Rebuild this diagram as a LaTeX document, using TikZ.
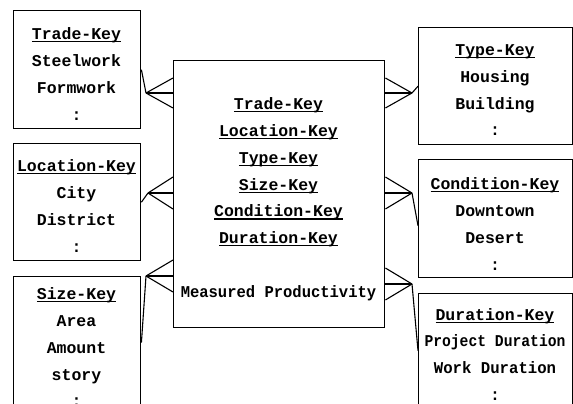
\documentclass[tikz,border=0pt]{standalone}
\usepackage{fontspec}
\newfontfamily\courf{Liberation Mono}
\usetikzlibrary{calc}
\newcommand\ukey[1]{\setbox0\hbox{#1}\rlap{\rule[-2.8pt]{\wd0}{1.3pt}}\box0}
\tikzset{
  box/.style={draw, line width=1.4pt, rectangle, inner sep=0pt, anchor=north west},
  txt/.style={font=\courf\bfseries\fontsize{16.5}{26.8}\selectfont, align=center, inner sep=0pt, anchor=north},
  crow/.style={line width=1.1pt},
}
\begin{document}
\begin{tikzpicture}[x=1pt,y=1pt]
\useasboundingbox (0,0) rectangle (573,-404);
\fill[white] (0,0) rectangle (573,-404);
\clip (0,0) rectangle (573,-404);
% boxes
\node[box, minimum width=127, minimum height=118] (trade) at (13,-10) {};
\node[box, minimum width=127, minimum height=117] (loc) at (13,-143) {};
\node[box, minimum width=127, minimum height=132] (size) at (13,-276) {};
\node[box, minimum width=154, minimum height=117] (type) at (418,-27) {};
\node[box, minimum width=154, minimum height=118] (cond) at (418,-159) {};
\node[box, minimum width=154, minimum height=114] (dur) at (418,-293) {};
\node[box, minimum width=211, minimum height=267] (main) at (173,-60) {};
% texts
\node[txt] (tradeT) at (76.5,-27.5) {\ukey{Trade-Key}\\Steelwork\\Formwork\\:};
\node[txt] (locT) at (76.5,-159.5) {\ukey{Location-Key}\\City\\District\\:};
\node[txt] (sizeT) at (76.5,-287.5) {\ukey{Size-Key}\\Area\\Amount\\story\\:};
\node[txt] (typeT) at (495,-44.5) {\ukey{Type-Key}\\Housing\\Building\\:};
\node[txt] (condT) at (495,-177.5) {\ukey{Condition-Key}\\Downtown\\Desert\\:};
\node[txt] (durT) at (495,-308) {\ukey{Duration-Key}\\\scalebox{0.89}[1]{Project Duration}\\\scalebox{0.95}[1]{Work Duration}\\:};
\node[txt] (mainT) at (278.5,-97.5) {\ukey{Trade-Key}\\\ukey{Location-Key}\\\ukey{Type-Key}\\\ukey{Size-Key}\\\ukey{Condition-Key}\\\ukey{Duration-Key}\\[26.8pt]\scalebox{0.94}[1]{Measured Productivity}};
% crow's feet apexes
\coordinate (aT) at (146,-93);
\coordinate (aL) at (148,-193);
\coordinate (aS) at (146,-276);
\coordinate (aY) at (412,-93);
\coordinate (aC) at (412,-193);
\coordinate (aD) at (412,-284);
% left side
\draw[crow] (trade.east) -- (aT);
\foreach \d in {15,0,-15} \draw[crow] (aT) -- ($(main.west |- aT)+(0,\d)$);
\draw[crow] (loc.east) -- (aL);
\foreach \d in {16,0,-16} \draw[crow] (aL) -- ($(main.west |- aL)+(0,\d)$);
\draw[crow] (size.east) -- (aS);
\foreach \d in {16,0,-16} \draw[crow] (aS) -- ($(main.west |- aS)+(0,\d)$);
% right side
\draw[crow] (type.west) -- (aY);
\foreach \d in {15,0,-15} \draw[crow] (aY) -- ($(main.east |- aY)+(0,\d)$);
\draw[crow] ($(cond.west)+(0,-7)$) -- (aC);
\foreach \d in {16,0,-16} \draw[crow] (aC) -- ($(main.east |- aC)+(0,\d)$);
\draw[crow] (dur.west) -- (aD);
\foreach \d in {16,0,-16} \draw[crow] (aD) -- ($(main.east |- aD)+(0,\d)$);
\end{tikzpicture}
\end{document}
